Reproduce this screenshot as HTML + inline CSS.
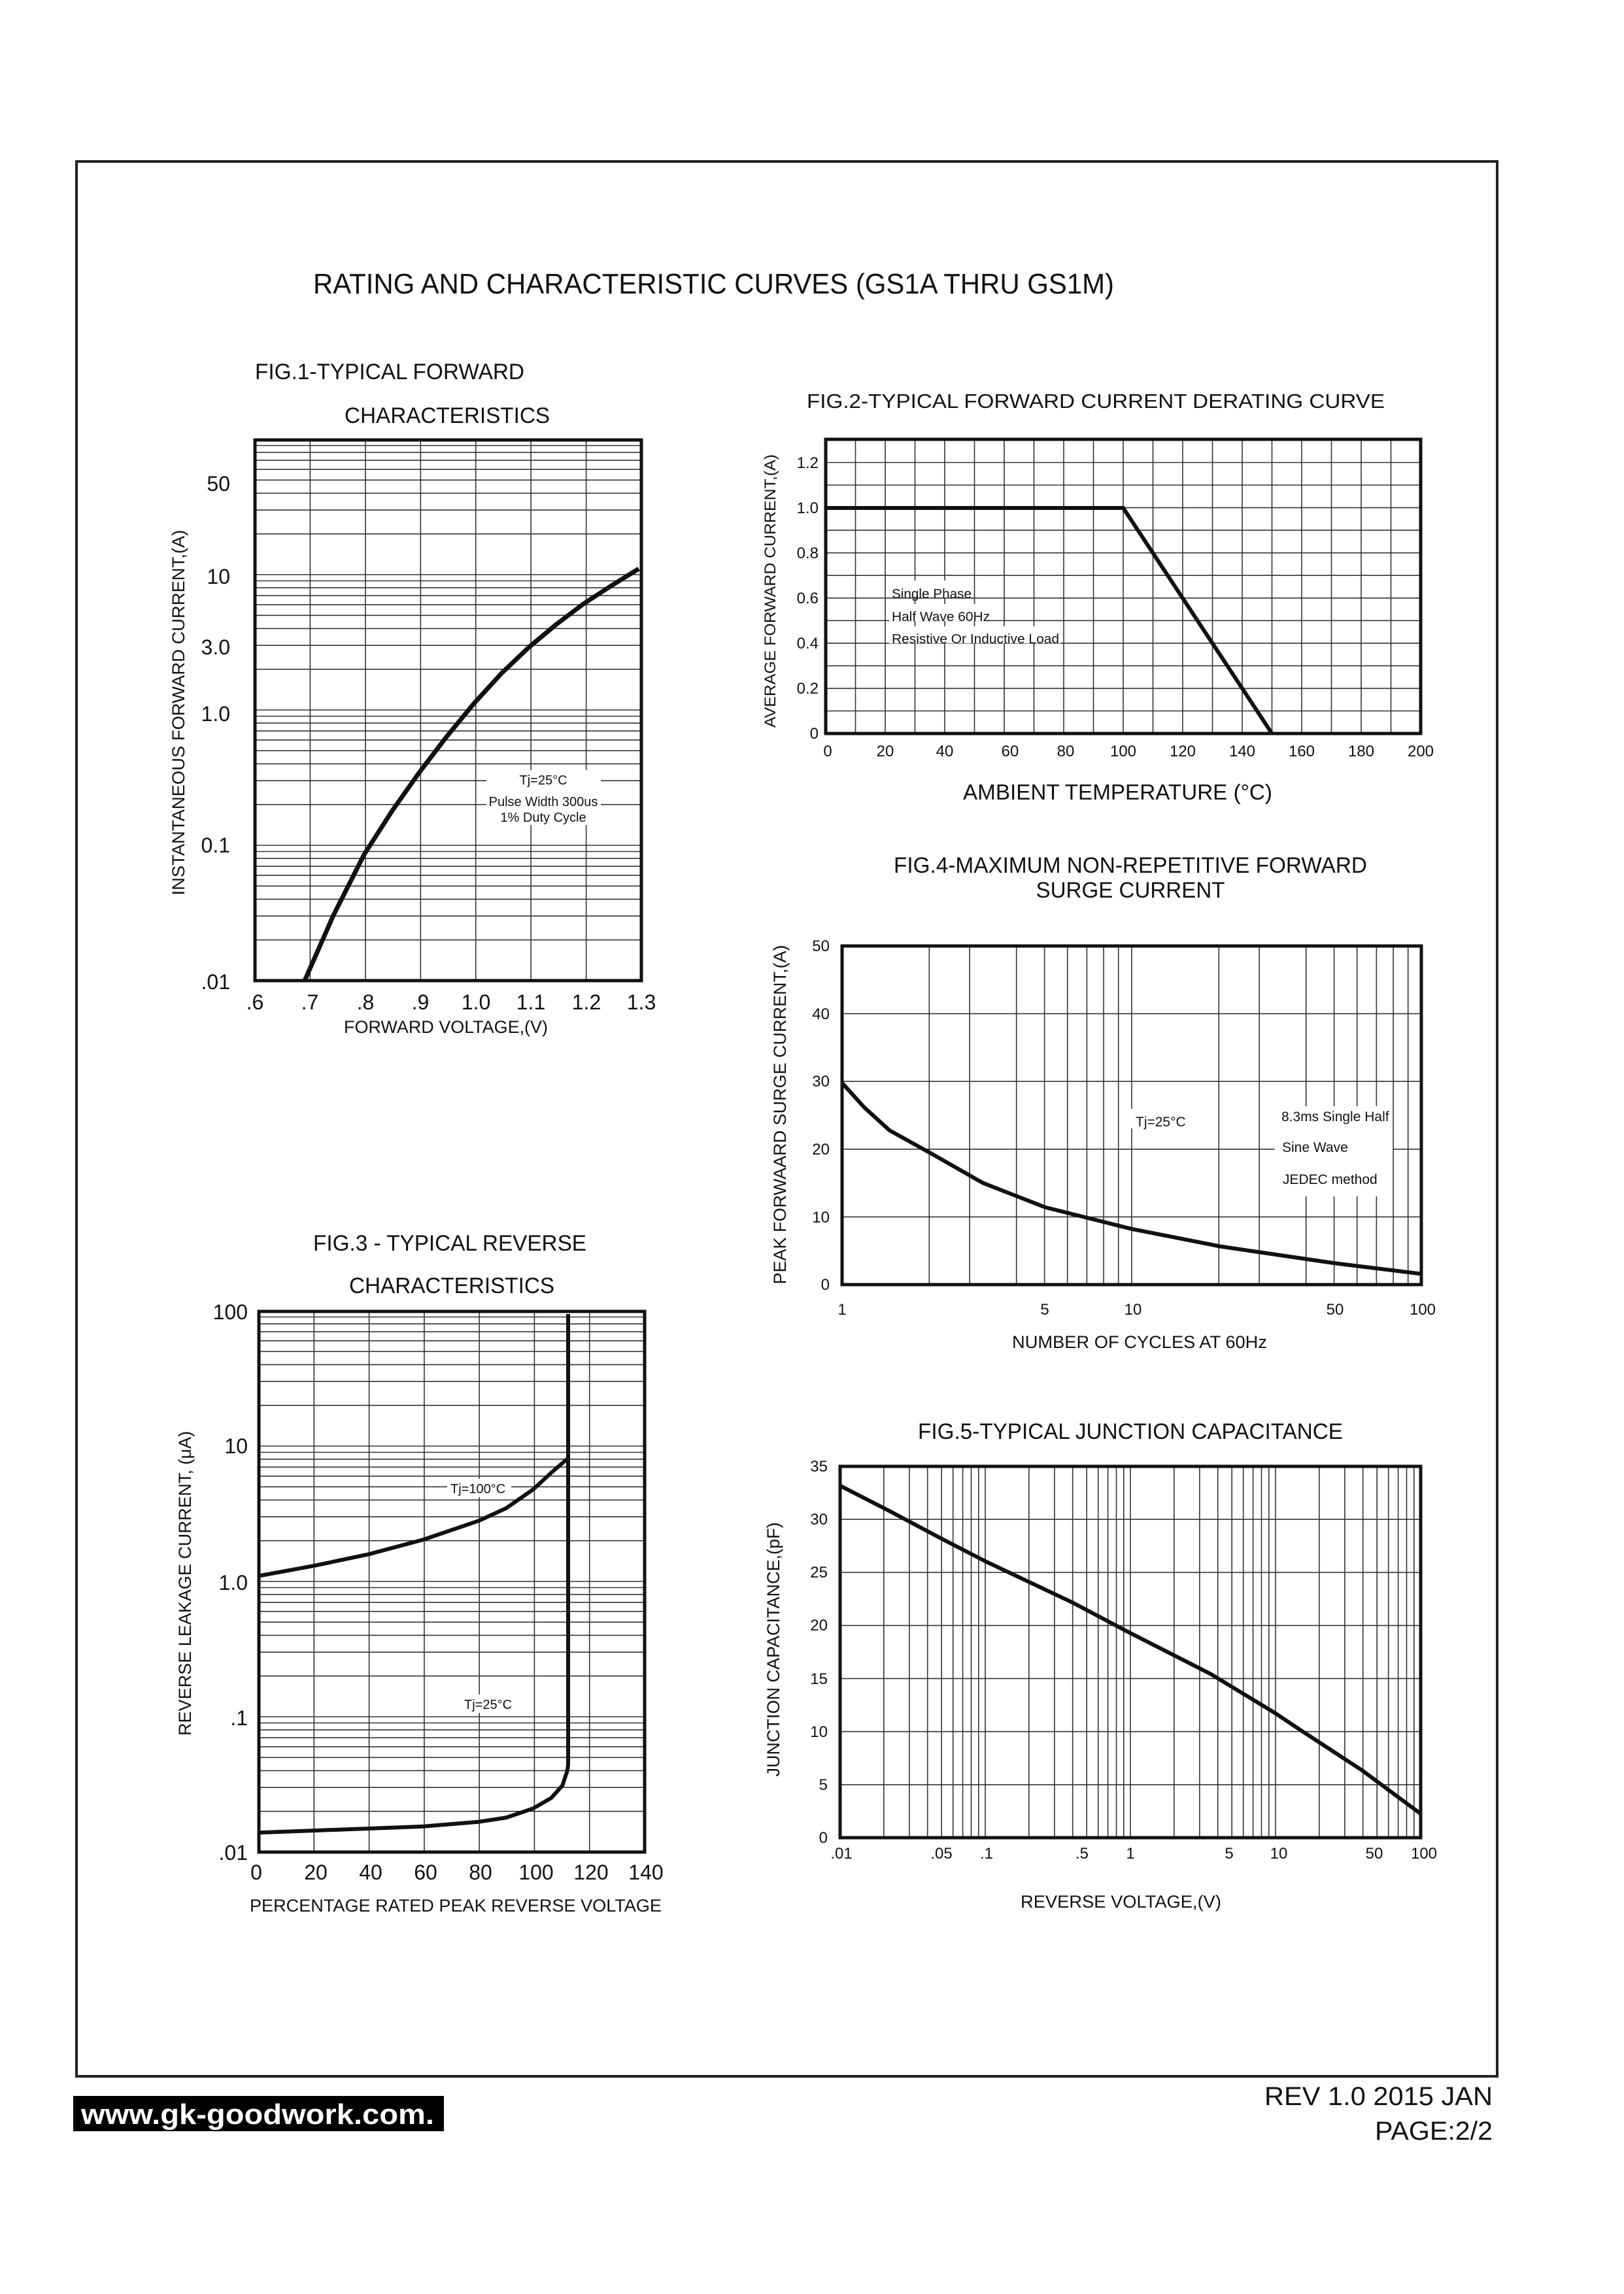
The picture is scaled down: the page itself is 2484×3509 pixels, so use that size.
<!DOCTYPE html>
<html><head><meta charset="utf-8"><style>
html,body{margin:0;padding:0;background:#fff}
svg{display:block}
text{font-family:"Liberation Sans",Arial,sans-serif;fill:#111}
</style></head><body>
<svg width="2484" height="3509" viewBox="0 0 2484 3509" xmlns="http://www.w3.org/2000/svg">
<defs>
<g id="h1"><g stroke="#333" stroke-width="1.6">
<line x1="390" x2="981" y1="-62.3" y2="-62.3"/><line x1="390" x2="981" y1="-98.8" y2="-98.8"/><line x1="390" x2="981" y1="-124.6" y2="-124.6"/><line x1="390" x2="981" y1="-144.7" y2="-144.7"/><line x1="390" x2="981" y1="-161.1" y2="-161.1"/><line x1="390" x2="981" y1="-174.9" y2="-174.9"/><line x1="390" x2="981" y1="-186.9" y2="-186.9"/><line x1="390" x2="981" y1="-197.5" y2="-197.5"/><line x1="390" x2="981" y1="-207" y2="-207"/></g></g>
<g id="h3"><g stroke="#333" stroke-width="1.6">
<line x1="396" x2="986" y1="-62.3" y2="-62.3"/><line x1="396" x2="986" y1="-98.8" y2="-98.8"/><line x1="396" x2="986" y1="-124.6" y2="-124.6"/><line x1="396" x2="986" y1="-144.7" y2="-144.7"/><line x1="396" x2="986" y1="-161.1" y2="-161.1"/><line x1="396" x2="986" y1="-174.9" y2="-174.9"/><line x1="396" x2="986" y1="-186.9" y2="-186.9"/><line x1="396" x2="986" y1="-197.5" y2="-197.5"/><line x1="396" x2="986" y1="-207" y2="-207"/></g></g>
<g id="v4"><g stroke="#333" stroke-width="1.6">
<line y1="1447" y2="1965" x1="133.3" x2="133.3"/><line y1="1447" y2="1965" x1="195.1" x2="195.1"/><line y1="1447" y2="1965" x1="266.7" x2="266.7"/><line y1="1447" y2="1965" x1="309.6" x2="309.6"/><line y1="1447" y2="1965" x1="344.7" x2="344.7"/><line y1="1447" y2="1965" x1="374.4" x2="374.4"/><line y1="1447" y2="1965" x1="400.1" x2="400.1"/><line y1="1447" y2="1965" x1="422.7" x2="422.7"/><line y1="1447" y2="1965" x1="443" x2="443"/></g></g>
<g id="v5"><g stroke="#333" stroke-width="1.6">
<line y1="2243" y2="2811" x1="66.8" x2="66.8"/><line y1="2243" y2="2811" x1="105.9" x2="105.9"/><line y1="2243" y2="2811" x1="133.7" x2="133.7"/><line y1="2243" y2="2811" x1="155.2" x2="155.2"/><line y1="2243" y2="2811" x1="172.7" x2="172.7"/><line y1="2243" y2="2811" x1="187.6" x2="187.6"/><line y1="2243" y2="2811" x1="200.5" x2="200.5"/><line y1="2243" y2="2811" x1="211.8" x2="211.8"/><line y1="2243" y2="2811" x1="222" x2="222"/></g></g>
</defs>

<!-- page border -->
<rect x="117" y="247" width="2173" height="2929" fill="none" stroke="#222" stroke-width="4"/>

<text x="479" y="449" font-size="44" textLength="1225" lengthAdjust="spacingAndGlyphs">RATING AND CHARACTERISTIC CURVES (GS1A THRU GS1M)</text>

<!-- FIG 1 -->
<text x="390" y="580" font-size="34" textLength="412" lengthAdjust="spacingAndGlyphs">FIG.1-TYPICAL FORWARD</text>
<text x="527" y="647" font-size="34" textLength="314" lengthAdjust="spacingAndGlyphs">CHARACTERISTICS</text>
<use href="#h1" y="1500"/><use href="#h1" y="1293"/><use href="#h1" y="1086"/><use href="#h1" y="879"/>
<g stroke="#333" stroke-width="1.6">
<line x1="474.4" x2="474.4" y1="673" y2="1500"/><line x1="558.9" x2="558.9" y1="673" y2="1500"/><line x1="643.3" x2="643.3" y1="673" y2="1500"/><line x1="727.7" x2="727.7" y1="673" y2="1500"/><line x1="812.1" x2="812.1" y1="673" y2="1500"/><line x1="896.6" x2="896.6" y1="673" y2="1500"/>
</g>
<rect x="744" y="1178" width="175" height="84" fill="#fff"/>
<text x="831" y="1200" font-size="20" text-anchor="middle">Tj=25°C</text>
<text x="831" y="1233" font-size="20" text-anchor="middle">Pulse Width 300us</text>
<text x="831" y="1257" font-size="20" text-anchor="middle">1% Duty Cycle</text>
<polyline fill="none" stroke="#111" stroke-width="7" stroke-linejoin="round" points="466,1500 510,1400 557,1307 600,1240 641,1182 683,1127 725,1076 767,1030 809,990 851,955 892,924 935,896 977,870"/>
<rect x="390" y="673" width="591" height="827" fill="none" stroke="#111" stroke-width="5"/>
<g font-size="32" text-anchor="end">
<text x="352" y="751">50</text><text x="352" y="893">10</text><text x="352" y="1001">3.0</text><text x="352" y="1103">1.0</text><text x="352" y="1304">0.1</text><text x="352" y="1513">.01</text>
</g>
<g font-size="32" text-anchor="middle">
<text x="390" y="1544">.6</text><text x="474" y="1544">.7</text><text x="559" y="1544">.8</text><text x="643" y="1544">.9</text><text x="728" y="1544">1.0</text><text x="812" y="1544">1.1</text><text x="897" y="1544">1.2</text><text x="981" y="1544">1.3</text>
</g>
<text x="526" y="1580" font-size="27" textLength="312" lengthAdjust="spacingAndGlyphs">FORWARD VOLTAGE,(V)</text>
<text transform="translate(282,1090) rotate(-90)" font-size="27" text-anchor="middle" textLength="559" lengthAdjust="spacingAndGlyphs">INSTANTANEOUS FORWARD CURRENT,(A)</text>

<!-- FIG 2 -->
<text x="1234" y="624" font-size="31" textLength="884" lengthAdjust="spacingAndGlyphs">FIG.2-TYPICAL FORWARD CURRENT DERATING CURVE</text>
<g stroke="#333" stroke-width="1.6">
<line x1="1263" x2="2173" y1="1087.5" y2="1087.5"/><line x1="1263" x2="2173" y1="1052.9" y2="1052.9"/><line x1="1263" x2="2173" y1="1018.4" y2="1018.4"/><line x1="1263" x2="2173" y1="983.8" y2="983.8"/><line x1="1263" x2="2173" y1="949.3" y2="949.3"/><line x1="1263" x2="2173" y1="914.8" y2="914.8"/><line x1="1263" x2="2173" y1="880.2" y2="880.2"/><line x1="1263" x2="2173" y1="845.7" y2="845.7"/><line x1="1263" x2="2173" y1="811.1" y2="811.1"/><line x1="1263" x2="2173" y1="776.6" y2="776.6"/><line x1="1263" x2="2173" y1="742" y2="742"/><line x1="1263" x2="2173" y1="707.5" y2="707.5"/>
<line y1="672" y2="1122" x1="1308.5" x2="1308.5"/><line y1="672" y2="1122" x1="1354" x2="1354"/><line y1="672" y2="1122" x1="1399.5" x2="1399.5"/><line y1="672" y2="1122" x1="1445" x2="1445"/><line y1="672" y2="1122" x1="1490.5" x2="1490.5"/><line y1="672" y2="1122" x1="1536" x2="1536"/><line y1="672" y2="1122" x1="1581.5" x2="1581.5"/><line y1="672" y2="1122" x1="1627" x2="1627"/><line y1="672" y2="1122" x1="1672.5" x2="1672.5"/><line y1="672" y2="1122" x1="1718" x2="1718"/><line y1="672" y2="1122" x1="1763.5" x2="1763.5"/><line y1="672" y2="1122" x1="1809" x2="1809"/><line y1="672" y2="1122" x1="1854.5" x2="1854.5"/><line y1="672" y2="1122" x1="1900" x2="1900"/><line y1="672" y2="1122" x1="1945.5" x2="1945.5"/><line y1="672" y2="1122" x1="1991" x2="1991"/><line y1="672" y2="1122" x1="2036.5" x2="2036.5"/><line y1="672" y2="1122" x1="2082" x2="2082"/><line y1="672" y2="1122" x1="2127.5" x2="2127.5"/>
</g>
<rect x="1360" y="888" width="120" height="26" fill="#fff"/>
<rect x="1360" y="924" width="150" height="26" fill="#fff"/>
<rect x="1360" y="958" width="262" height="26" fill="#fff"/>
<g font-size="20">
<text x="1364" y="915" textLength="122" lengthAdjust="spacingAndGlyphs">Single Phase</text>
<text x="1364" y="950" textLength="150" lengthAdjust="spacingAndGlyphs">Half Wave 60Hz</text>
<text x="1364" y="984" textLength="256" lengthAdjust="spacingAndGlyphs">Resistive Or Inductive Load</text>
</g>
<polyline fill="none" stroke="#111" stroke-width="6" points="1263,777 1718,777 1945.5,1122"/>
<rect x="1263" y="672" width="910" height="450" fill="none" stroke="#111" stroke-width="5"/>
<g font-size="24" text-anchor="end">
<text x="1252" y="1130">0</text><text x="1252" y="1061">0.2</text><text x="1252" y="992">0.4</text><text x="1252" y="923">0.6</text><text x="1252" y="854">0.8</text><text x="1252" y="785">1.0</text><text x="1252" y="716">1.2</text>
</g>
<g font-size="24" text-anchor="middle">
<text x="1266" y="1157">0</text><text x="1354" y="1157">20</text><text x="1445" y="1157">40</text><text x="1545" y="1157">60</text><text x="1630" y="1157">80</text><text x="1718" y="1157">100</text><text x="1809" y="1157">120</text><text x="1900" y="1157">140</text><text x="1991" y="1157">160</text><text x="2082" y="1157">180</text><text x="2173" y="1157">200</text>
</g>
<text x="1473" y="1223" font-size="33" textLength="473" lengthAdjust="spacingAndGlyphs">AMBIENT TEMPERATURE (°C)</text>
<text transform="translate(1186,904) rotate(-90)" font-size="24" text-anchor="middle" textLength="418" lengthAdjust="spacingAndGlyphs">AVERAGE FORWARD CURRENT,(A)</text>

<!-- FIG 4 -->
<text x="1729" y="1335" font-size="34" text-anchor="middle" textLength="724" lengthAdjust="spacingAndGlyphs">FIG.4-MAXIMUM NON-REPETITIVE FORWARD</text>
<text x="1729" y="1373" font-size="34" text-anchor="middle" textLength="289" lengthAdjust="spacingAndGlyphs">SURGE CURRENT</text>
<g stroke="#333" stroke-width="1.6">
<line x1="1288" x2="2174" y1="1550.6" y2="1550.6"/><line x1="1288" x2="2174" y1="1654.2" y2="1654.2"/><line x1="1288" x2="2174" y1="1757.8" y2="1757.8"/><line x1="1288" x2="2174" y1="1861.4" y2="1861.4"/>
</g>
<use href="#v4" x="1288"/><use href="#v4" x="1731"/>
<rect x="1950" y="1692" width="180" height="138" fill="#fff"/>
<rect x="1728" y="1696" width="100" height="30" fill="#fff"/>
<text x="1737" y="1723" font-size="21">Tj=25°C</text>
<g font-size="21">
<text x="1960" y="1715">8.3ms Single Half</text>
<text x="1961" y="1762">Sine Wave</text>
<text x="1962" y="1811">JEDEC method</text>
</g>
<polyline fill="none" stroke="#111" stroke-width="6" stroke-linejoin="round" points="1288.2,1656.7 1321.9,1693.9 1360.5,1729 1423.6,1764 1503.6,1809.6 1599,1846.8 1730.8,1879.8 1866.2,1906.5 1946.9,1918.4 2042.3,1932.4 2174.2,1948.6"/>
<rect x="1288" y="1447" width="886" height="518" fill="none" stroke="#111" stroke-width="5"/>
<g font-size="24" text-anchor="end">
<text x="1269" y="1973">0</text><text x="1269" y="1870">10</text><text x="1269" y="1766">20</text><text x="1269" y="1662">30</text><text x="1269" y="1559">40</text><text x="1269" y="1455">50</text>
</g>
<g font-size="24" text-anchor="middle">
<text x="1288" y="2011">1</text><text x="1598" y="2011">5</text><text x="1733" y="2011">10</text><text x="2042" y="2011">50</text><text x="2176" y="2011">100</text>
</g>
<text x="1548" y="2062" font-size="27" textLength="390" lengthAdjust="spacingAndGlyphs">NUMBER OF CYCLES AT 60Hz</text>
<text transform="translate(1202,1705) rotate(-90)" font-size="27" text-anchor="middle" textLength="519" lengthAdjust="spacingAndGlyphs">PEAK FORWAARD SURGE CURRENT,(A)</text>

<!-- FIG 3 -->
<text x="479" y="1913" font-size="34" textLength="418" lengthAdjust="spacingAndGlyphs">FIG.3 - TYPICAL REVERSE</text>
<text x="534" y="1978" font-size="34" textLength="314" lengthAdjust="spacingAndGlyphs">CHARACTERISTICS</text>
<use href="#h3" y="2833"/><use href="#h3" y="2626"/><use href="#h3" y="2419"/><use href="#h3" y="2212"/>
<g stroke="#333" stroke-width="1.6">
<line x1="480.3" x2="480.3" y1="2006" y2="2833"/><line x1="564.6" x2="564.6" y1="2006" y2="2833"/><line x1="648.9" x2="648.9" y1="2006" y2="2833"/><line x1="733.1" x2="733.1" y1="2006" y2="2833"/><line x1="817.4" x2="817.4" y1="2006" y2="2833"/><line x1="901.7" x2="901.7" y1="2006" y2="2833"/>
</g>
<rect x="684" y="2262" width="98" height="28" fill="#fff"/>
<rect x="706" y="2592" width="90" height="28" fill="#fff"/>
<text x="689" y="2284" font-size="20">Tj=100°C</text>
<text x="710" y="2614" font-size="20">Tj=25°C</text>
<polyline fill="none" stroke="#111" stroke-width="6" stroke-linejoin="round" points="396.3,2410.5 480.1,2395.1 564.5,2377.3 647.8,2355 732.1,2326.3 774,2307.1 815.4,2278.4 843,2252.9 868.8,2230.6"/>
<polyline fill="none" stroke="#111" stroke-width="6" stroke-linejoin="round" points="396.3,2803.3 480.1,2800.1 564.5,2797 647.8,2793.8 732.1,2786.7 774,2780.4 815.4,2766.3 843,2750.4 860.2,2731.3 867.6,2709 869,2700 869,2010"/>
<rect x="396" y="2006" width="590" height="827" fill="none" stroke="#111" stroke-width="5"/>
<g font-size="32" text-anchor="end">
<text x="379" y="2018">100</text><text x="379" y="2223">10</text><text x="379" y="2432">1.0</text><text x="379" y="2639">.1</text><text x="379" y="2845">.01</text>
</g>
<g font-size="32" text-anchor="middle">
<text x="392" y="2875">0</text><text x="483" y="2875">20</text><text x="567" y="2875">40</text><text x="651" y="2875">60</text><text x="735" y="2875">80</text><text x="820" y="2875">100</text><text x="904" y="2875">120</text><text x="988" y="2875">140</text>
</g>
<text x="382" y="2924" font-size="27" textLength="630" lengthAdjust="spacingAndGlyphs">PERCENTAGE RATED PEAK REVERSE VOLTAGE</text>
<text transform="translate(292,2422) rotate(-90)" font-size="27" text-anchor="middle" textLength="466" lengthAdjust="spacingAndGlyphs">REVERSE LEAKAGE CURRENT, (μA)</text>

<!-- FIG 5 -->
<text x="1729" y="2201" font-size="34" text-anchor="middle" textLength="650" lengthAdjust="spacingAndGlyphs">FIG.5-TYPICAL JUNCTION CAPACITANCE</text>
<g stroke="#333" stroke-width="1.6">
<line x1="1285" x2="2173" y1="2729.9" y2="2729.9"/><line x1="1285" x2="2173" y1="2648.7" y2="2648.7"/><line x1="1285" x2="2173" y1="2567.6" y2="2567.6"/><line x1="1285" x2="2173" y1="2486.4" y2="2486.4"/><line x1="1285" x2="2173" y1="2405.3" y2="2405.3"/><line x1="1285" x2="2173" y1="2324.1" y2="2324.1"/>
</g>
<use href="#v5" x="1285"/><use href="#v5" x="1507"/><use href="#v5" x="1729"/><use href="#v5" x="1951"/>
<polyline fill="none" stroke="#111" stroke-width="6" stroke-linejoin="round" points="1285.4,2272.8 1360.5,2311.3 1439.7,2353.4 1507.8,2388.5 1641,2451.6 1727.3,2497.2 1851.5,2560.4 1949.7,2620 1991.8,2648.1 2083,2707.7 2172.8,2774.3"/>
<rect x="1285" y="2243" width="888" height="568" fill="none" stroke="#111" stroke-width="5"/>
<g font-size="24" text-anchor="end">
<text x="1266" y="2819">0</text><text x="1266" y="2738">5</text><text x="1266" y="2657">10</text><text x="1266" y="2576">15</text><text x="1266" y="2494">20</text><text x="1266" y="2413">25</text><text x="1266" y="2332">30</text><text x="1266" y="2251">35</text>
</g>
<g font-size="24" text-anchor="middle">
<text x="1287" y="2843">.01</text><text x="1440" y="2843">.05</text><text x="1509" y="2843">.1</text><text x="1655" y="2843">.5</text><text x="1729" y="2843">1</text><text x="1880" y="2843">5</text><text x="1956" y="2843">10</text><text x="2102" y="2843">50</text><text x="2178" y="2843">100</text>
</g>
<text x="1561" y="2918" font-size="27" textLength="307" lengthAdjust="spacingAndGlyphs">REVERSE VOLTAGE,(V)</text>
<text transform="translate(1192,2523) rotate(-90)" font-size="27" text-anchor="middle" textLength="389" lengthAdjust="spacingAndGlyphs">JUNCTION CAPACITANCE,(pF)</text>

<!-- footer -->
<rect x="112" y="3206" width="567" height="54" fill="#000"/>
<text x="124" y="3249" font-size="44" font-weight="bold" style="fill:#fff" textLength="540" lengthAdjust="spacingAndGlyphs">www.gk-goodwork.com.</text>
<text x="2283" y="3220" font-size="40" text-anchor="end" textLength="349" lengthAdjust="spacingAndGlyphs">REV 1.0 2015 JAN</text>
<text x="2283" y="3273" font-size="40" text-anchor="end" textLength="180" lengthAdjust="spacingAndGlyphs">PAGE:2/2</text>
</svg>
</body></html>
